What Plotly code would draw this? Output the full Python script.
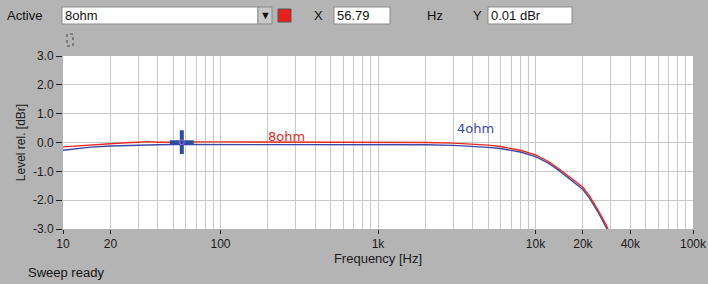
import plotly.graph_objects as go

# ---------------- data ----------------
freq_8ohm = [10, 12, 15, 20, 25, 30, 35, 40, 50, 60, 80, 100, 200, 500, 1000, 2000, 3000,
             4000, 5000, 6000, 7000, 8000, 10000, 12000, 14000, 16000, 18000, 20000, 22000,
             25000, 28000, 30000]
level_8ohm = [-0.15, -0.12, -0.08, -0.03, -0.01, 0.01, 0.03, 0.01, 0.02, 0.02, 0.02, 0.02, 0.02,
              0.02, 0.01, 0.00, -0.02, -0.05, -0.09, -0.14, -0.20, -0.27, -0.43, -0.65, -0.90,
              -1.15, -1.35, -1.55, -1.85, -2.35, -2.85, -3.20]

freq_4ohm = [10, 12, 15, 20, 25, 30, 40, 50, 60, 80, 100, 200, 500, 1000, 2000, 3000, 4000,
             5000, 6000, 7000, 8000, 10000, 12000, 14000, 16000, 18000, 20000, 22000, 25000,
             28000, 30000]
level_4ohm = [-0.27, -0.22, -0.16, -0.12, -0.10, -0.09, -0.08, -0.07, -0.07, -0.07, -0.07, -0.06,
              -0.06, -0.06, -0.08, -0.10, -0.13, -0.17, -0.21, -0.27, -0.33, -0.49, -0.71, -0.96,
              -1.21, -1.43, -1.63, -1.93, -2.42, -2.93, -3.25]

cursor_x = [56.79]
cursor_y = [0.01]

x_tick_vals = [10, 20, 100, 1000, 10000, 20000, 40000, 100000]
x_tick_text = ["10", "20", "100", "1k", "10k", "20k", "40k", "100k"]
y_tick_vals = [3, 2, 1, 0, -1, -2, -3]
y_tick_text = ["3.0", "2.0", "1.0", "0.0", "-1.0", "-2.0", "-3.0"]

# gridline frequencies (1..9 per decade)
grid_freqs = [m * 10 ** e for e in range(1, 5) for m in range(1, 10)] + [100000]

RED = "#e8281e"
BLUE = "#3c48a8"
BG = "#b4b4b4"
FONT = "Liberation Sans"

W, H = 708, 284
L, R, T, B = 63, 15, 56, 55
PW, PH = W - L - R, H - T - B


def px(x):
    return (x - L) / PW


def py(y):
    return (H - B - y) / PH


fig = go.Figure()

fig.add_trace(go.Scatter(x=freq_4ohm, y=level_4ohm, mode="lines",
                         line=dict(color=BLUE, width=1.4), name="4ohm", showlegend=False))
fig.add_trace(go.Scatter(x=freq_8ohm, y=level_8ohm, mode="lines",
                         line=dict(color=RED, width=1.4), name="8ohm", showlegend=False))
fig.add_trace(go.Scatter(x=cursor_x, y=cursor_y, mode="markers",
                         marker=dict(symbol="cross-thin", size=17,
                                     line=dict(color="#2c4c9c", width=4)),
                         showlegend=False))
fig.add_trace(go.Scatter(x=cursor_x, y=cursor_y, mode="markers",
                         marker=dict(symbol="circle-open", size=5,
                                     line=dict(color="#d06060", width=1)),
                         showlegend=False))

fig.update_layout(
    width=W, height=H,
    margin=dict(l=L, r=R, t=T, b=B, pad=0, autoexpand=False),
    paper_bgcolor=BG, plot_bgcolor="white",
    font=dict(family=FONT, size=12, color="#1a1a1a"),
    xaxis=dict(type="log", range=[1, 5], tickvals=x_tick_vals, ticktext=x_tick_text,
               showgrid=False, zeroline=False, showline=False, automargin=False,
               ticks="outside", ticklen=4, tickcolor="#222",
               tickfont=dict(size=12, family=FONT, color="#1a1a1a"),
               title=dict(text="Frequency [Hz]", font=dict(size=13, family=FONT), standoff=1)),
    xaxis2=dict(type="log", range=[1, 5], overlaying="x", tickvals=grid_freqs, automargin=False,
                showticklabels=False, ticks="", showgrid=True, gridcolor="#c8c8c8",
                gridwidth=1.3, zeroline=False, layer="below traces"),
    yaxis=dict(range=[-3, 3], tickvals=y_tick_vals, ticktext=y_tick_text, automargin=False,
               showgrid=True, gridcolor="#c8c8c8", gridwidth=1.3, zeroline=False,
               showline=False, ticks="outside", ticklen=6, tickcolor="#222",
               tickfont=dict(size=12, family=FONT, color="#1a1a1a"),
               title=dict(text="Level rel. [dBr]", font=dict(size=12, family=FONT), standoff=4)),
)
# dummy trace on xaxis2 to activate gridlines
fig.add_trace(go.Scatter(x=[10], y=[None], xaxis="x2", showlegend=False, hoverinfo="skip"))

shapes = []
ann = []


def box(x0, y0, x1, y1, fill="white"):
    shapes.append(dict(type="rect", xref="paper", yref="paper", x0=px(x0), x1=px(x1),
                       y0=py(y1), y1=py(y0), fillcolor=fill, line=dict(color="#8a8a8a", width=1)))


def text(x, y, s, anchor="left", color="#111", size=13):
    ann.append(dict(xref="paper", yref="paper", x=px(x), y=py(y), text=s, showarrow=False,
                    xanchor=anchor, yanchor="middle", xshift=-2,
                    font=dict(color=color, size=size, family=FONT)))


# toolbar
text(7, 15, "Active")
box(62, 7, 258, 24)
text(65, 15, "8ohm")
box(258, 7, 272, 24, fill="#c8c8c8")
text(267, 15, "▼", anchor="center", size=11)
shapes.append(dict(type="rect", xref="paper", yref="paper", x0=px(278), x1=px(291),
                   y0=py(22), y1=py(9), fillcolor="#e8201c", line=dict(color="#555", width=1)))
text(314, 15, "X")
box(334, 7, 390, 24)
text(337, 15, "56.79")
text(427, 15, "Hz")
text(473, 15, "Y")
box(488, 7, 572, 24)
text(491, 15, "0.01 dBr")
shapes.append(dict(type="rect", xref="paper", yref="paper", x0=px(67), x1=px(73),
                   y0=py(46), y1=py(34), line=dict(color="#444", width=1, dash="dot")))
text(28, 272, "Sweep ready")

# series labels
ann.append(dict(x=2.42, y=0.2, xref="x", yref="y", text="8ohm", showarrow=False,
                font=dict(color=RED, size=13, family="DejaVu Sans")))
ann.append(dict(x=3.62, y=0.47, xref="x", yref="y", text="4ohm", showarrow=False,
                font=dict(color=BLUE, size=13, family="DejaVu Sans")))

fig.update_layout(shapes=shapes, annotations=ann)
fig.write_html("out.html")
